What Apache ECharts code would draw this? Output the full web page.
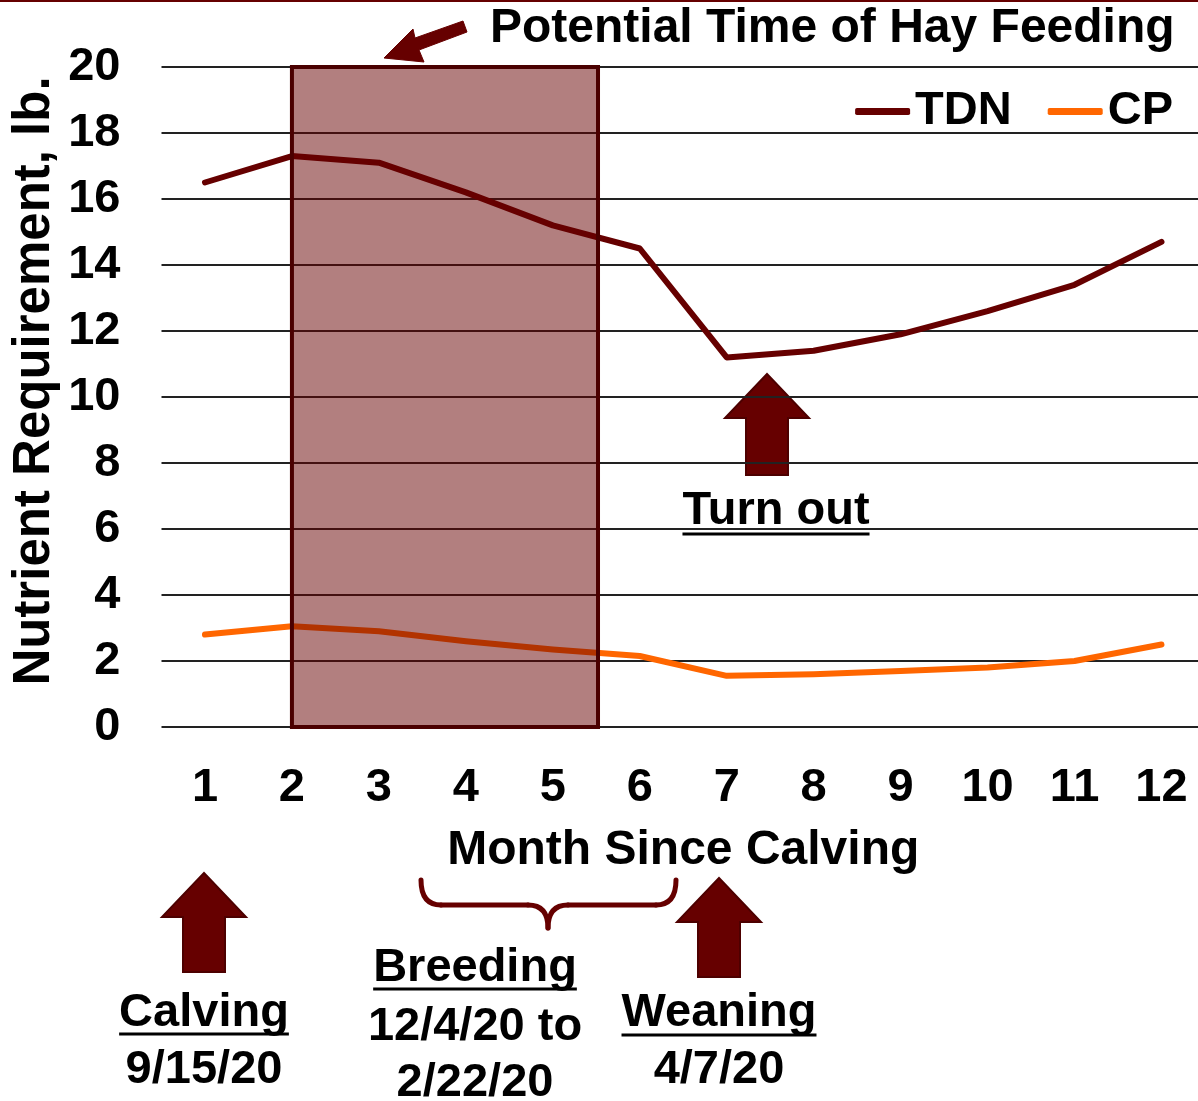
<!DOCTYPE html>
<html><head><meta charset="utf-8">
<script src="https://cdn.jsdelivr.net/npm/echarts@6/dist/echarts.min.js"></script>
<style>html,body{margin:0;padding:0;background:#fff}#c{width:1198px;height:1101px}</style>
</head><body><div id="c"></div>
<script>
// ---- data ----
const months = [1, 2, 3, 4, 5, 6, 7, 8, 9, 10, 11, 12];
const tdnValues = [16.5, 17.3, 17.1, 16.2, 15.2, 14.5, 11.2, 11.4, 11.9, 12.6, 13.4, 14.7];
const cpValues = [2.8, 3.05, 2.9, 2.6, 2.35, 2.15, 1.55, 1.6, 1.7, 1.8, 2.0, 2.5];
const yTickValues = [0, 2, 4, 6, 8, 10, 12, 14, 16, 18, 20];
const hayPeriod = [2, 5.52];       // months, shaded "hay feeding" window
const yRange = [0, 20];
const xRange = [0.5, 12.42];       // plot is cropped at the right edge of the picture

const FAM = '"Liberation Sans", Arial, Helvetica, sans-serif';
const FONT = 'bold 47px ' + FAM;
const DARK = '#660000';

const chart = echarts.init(document.getElementById('c'), null, {renderer: 'canvas'});

const ctx = document.createElement('canvas').getContext('2d');
ctx.font = FONT;
function tw(t) { return ctx.measureText(t).width; }

function upArrow(cx, tipY, headBaseY, bottomY, headHalf, shaftHalf) {
  return {
    type: 'polygon',
    shape: {points: [[cx, tipY], [cx + headHalf, headBaseY], [cx + shaftHalf, headBaseY], [cx + shaftHalf, bottomY],
      [cx - shaftHalf, bottomY], [cx - shaftHalf, headBaseY], [cx - headHalf, headBaseY]]},
    style: {fill: DARK, stroke: '#4d0000', lineWidth: 2}
  };
}
function text(t, x, y, align, font) {
  return {type: 'text', style: {text: t, x: x, y: y, font: font || FONT, fill: '#000', align: align || 'center', verticalAlign: 'middle'}};
}
function underline(t, cx, y) {
  const w = tw(t);
  return {type: 'line', shape: {x1: cx - w / 2, y1: y, x2: cx + w / 2, y2: y}, style: {stroke: '#000', lineWidth: 3}};
}
const braceStyle = {fill: null, stroke: DARK, lineWidth: 5, lineCap: 'round', lineJoin: 'round'};
function curve(x1, y1, cx, cy, x2, y2) {
  return {type: 'bezierCurve', shape: {x1: x1, y1: y1, cpx1: cx, cpy1: cy, x2: x2, y2: y2}, style: braceStyle};
}
function seg(x1, y1, x2, y2) {
  return {type: 'line', shape: {x1: x1, y1: y1, x2: x2, y2: y2}, style: braceStyle};
}

const graphics = [
  {type: 'line', shape: {x1: 0, y1: 1, x2: 1198, y2: 1}, style: {stroke: DARK, lineWidth: 2}},
  text('Potential Time of Hay Feeding', 490, 29, 'left', 'bold 48px ' + FAM),
  {type: 'polygon', shape: {points: [[384, 58], [413, 29], [415, 38], [463, 21], [467, 32], [419, 50], [424, 62]]},
    style: {fill: DARK, stroke: DARK, lineWidth: 1}},
  upArrow(767, 374, 418, 475, 42, 21),
  text('Turn out', 776, 511),
  underline('Turn out', 776, 534),
  {type: 'text', rotation: Math.PI / 2, x: 35, y: 381,
    style: {text: 'Nutrient Requirement, lb.', x: 0, y: 0, font: 'bold 51px ' + FAM, fill: '#000', align: 'center', verticalAlign: 'middle'}},
  upArrow(204, 873, 917, 972, 42, 21),
  text('Calving', 204, 1013),
  underline('Calving', 204, 1034),
  text('9/15/20', 204, 1070),
  curve(421, 880, 421, 905, 441, 905),
  seg(441, 905, 528, 905),
  curve(528, 905, 548, 905, 548, 928),
  curve(548, 928, 548, 905, 568, 905),
  seg(568, 905, 656, 905),
  curve(656, 905, 676, 905, 676, 880),
  text('Breeding', 475, 968),
  underline('Breeding', 475, 989),
  text('12/4/20 to', 475, 1027),
  text('2/22/20', 475, 1083),
  upArrow(719, 878, 922, 977, 42, 21),
  text('Weaning', 719, 1013),
  underline('Weaning', 719, 1035),
  text('4/7/20', 719, 1070)
];

const option = {
  animation: false,
  backgroundColor: '#fff',
  grid: {left: 161.5, top: 67, right: 0, height: 660, containLabel: false},
  legend: {
    data: ['TDN', 'CP'], right: 20, top: 83, icon: 'roundRect', itemWidth: 55, itemHeight: 7, itemGap: 36,
    textStyle: {fontSize: 47, fontWeight: 'bold', fontFamily: FAM, color: '#000'}
  },
  xAxis: {
    type: 'value', min: xRange[0], max: xRange[1],
    name: 'Month Since Calving', nameLocation: 'middle', nameGap: 100,
    nameTextStyle: {fontSize: 48, fontWeight: 'bold', fontFamily: FAM, color: '#000', padding: [0, 0, 0, 7]},
    axisLine: {show: false}, axisTick: {show: false}, splitLine: {show: false},
    axisLabel: {customValues: months, formatter: v => String(v), margin: 38, fontSize: 47, fontWeight: 'bold', fontFamily: FAM, color: '#000'}
  },
  yAxis: {
    type: 'value', min: yRange[0], max: yRange[1], interval: 2,
    axisLine: {show: false}, axisTick: {show: false},
    splitLine: {show: true, lineStyle: {color: '#222', width: 2}},
    axisLabel: {margin: 41, fontSize: 47, fontWeight: 'bold', fontFamily: FAM, color: '#000'}
  },
  series: [
    {name: 'TDN', type: 'line', z: 2, symbol: 'none', data: months.map((m, i) => [m, tdnValues[i]]),
      lineStyle: {color: DARK, width: 6, join: 'round', cap: 'round'}, itemStyle: {color: DARK}},
    {name: 'CP', type: 'line', z: 2, symbol: 'none', data: months.map((m, i) => [m, cpValues[i]]),
      lineStyle: {color: '#ff6600', width: 6, join: 'round', cap: 'round'}, itemStyle: {color: '#ff6600'}},
    {name: 'Hay', type: 'custom', z: 5, silent: true,
      data: [[hayPeriod[0], hayPeriod[1], yRange[0], yRange[1]]],
      encode: {x: [0, 1], y: [2, 3]},
      renderItem: function (params, api) {
        const p1 = api.coord([api.value(0), api.value(3)]);
        const p2 = api.coord([api.value(1), api.value(2)]);
        return {type: 'rect', shape: {x: p1[0], y: p1[1], width: p2[0] - p1[0], height: p2[1] - p1[1]},
          style: {fill: 'rgba(102,0,0,0.5)', stroke: '#4a0000', lineWidth: 4}};
      }}
  ],
  graphic: graphics
};
chart.setOption(option);
</script>
</body></html>
